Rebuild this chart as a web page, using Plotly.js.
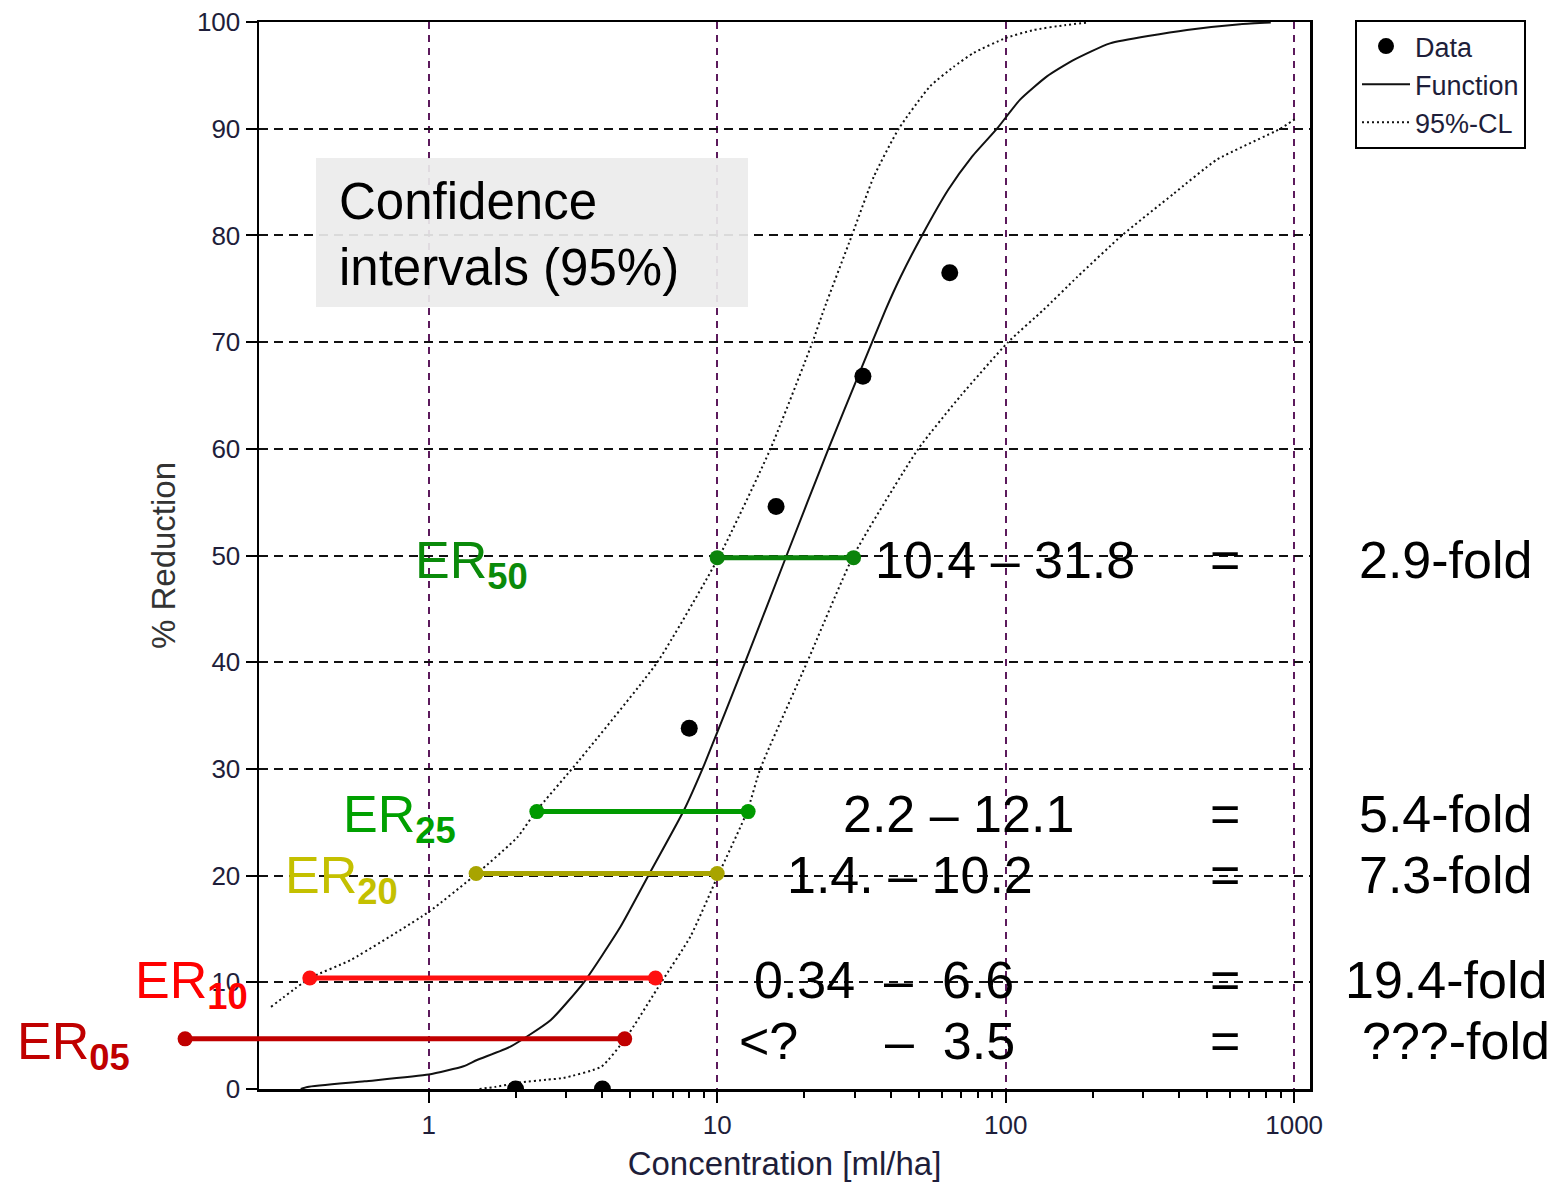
<!DOCTYPE html>
<html><head><meta charset="utf-8">
<script src="https://cdn.plot.ly/plotly-3.0.1.min.js"></script>
<style>html,body{margin:0;padding:0;background:#fff}#chart{width:1564px;height:1183px}</style>
</head><body><div id="chart"></div>
<script>
// ---- data ----
const dataX = [2, 4, 8, 16, 32, 64];
const dataY = [0, 0, 33.8, 54.6, 66.8, 76.5];

const fnX = [0.36, 0.38, 0.6, 1.0, 1.32, 1.47, 1.92, 2.65, 3.45, 4.62, 5.8, 7.66, 9.05, 12.5, 17.4, 24.3, 31, 38.3, 43.2, 51.3, 63.3, 76, 93.3, 112, 139, 171, 230, 425, 650, 830];
const fnY = [0.0, 0.19, 0.72, 1.35, 2.13, 2.72, 3.97, 6.47, 10.0, 15.2, 20.1, 26.1, 30.5, 40, 50, 60, 67, 73, 76.1, 80, 84.3, 87.3, 90, 92.7, 94.9, 96.4, 98.0, 99.25, 99.8, 99.95];

const ciUpperX = [0.284, 0.388, 0.537, 1.0, 1.47, 2.03, 2.35, 3.32, 6.2, 10.2, 15.3, 21.4, 23.4, 29.3, 34.9, 42.6, 54.8, 66, 77.4, 100, 125, 160, 193];
const ciUpperY = [7.7, 10.4, 12.1, 16.6, 20.2, 23.6, 26.0, 30.8, 40, 50, 60, 70, 73, 80, 85.5, 90, 94, 95.8, 97.1, 98.5, 99.25, 99.7, 99.95];

const ciLowerX = [1.5, 1.7, 2.09, 2.58, 2.93, 3.97, 4.8, 6.4, 8.08, 10.1, 12.7, 14.1, 20.5, 29.7, 49.8, 70, 102, 135, 177, 253, 382, 540, 895, 1020];
const ciLowerY = [0.0, 0.2, 0.63, 0.88, 1.03, 2.1, 4.7, 10.0, 14.3, 20.1, 26.0, 30.0, 40, 50, 60, 65, 70, 73, 76.1, 80, 83.9, 87.1, 90, 91];

const erNames = ['50', '25', '20', '10', '05'];
const erY = [49.8, 26.0, 20.2, 10.4, 4.7];
const erLow = [10.0, 2.37, 1.46, 0.387, 0.143];
const erHigh = [29.7, 12.8, 10.0, 6.11, 4.78];

const intervalText = ['10.4 – 31.8', '2.2 – 12.1', '1.4. – 10.2',
  '0.34\u00a0\u00a0–\u00a0\u00a06.6', '&lt;?\u00a0\u00a0\u00a0\u00a0\u00a0\u00a0–\u00a0\u00a03.5'];
const foldText = ['2.9-fold', '5.4-fold', '7.3-fold', '19.4-fold', '???-fold'];

const xTickVals = [1, 10, 100, 1000];
const xTickText = ['1', '10', '100', '1000'];
const xMinorVals = [2, 3, 4, 5, 6, 7, 8, 9, 20, 30, 40, 50, 60, 70, 80, 90, 200, 300, 400, 500, 600, 700, 800, 900];
const xMin = 0.258, xMax = 1135;

// ---- styles / placement (pixels of the 1564x1183 page) ----
const W = 1564, H = 1183;
const M = {l: 15, r: 254, t: 22, b: 94};
const plotLeftPx = 259;                    // left edge of the framed plot
const PW = W - M.l - M.r, PH = H - M.t - M.b;
const px2paperX = p => (p - M.l) / PW;
const px2paperY = p => (H - M.b - p) / PH;
const d0 = px2paperX(plotLeftPx);
const xr = [Math.log10(xMin), Math.log10(xMax)];
// wider, invisible twin axis with the same scale so the ER bars may run past the frame
const x2r = [xr[0] - (xr[1] - xr[0]) * d0 / (1 - d0), xr[1]];

const erLineColor = ['#0b840b', '#009a00', '#a8a400', '#ff1010', '#c00000'];
const erTextColor = ['#0a8a0a', '#00a000', '#c4c000', '#ff0000', '#c00000'];
const erLabelLeftPx = [413, 341, 283, 133, 15];
const intervalLeftPx = [873, 841, 785, 752, 737];
const foldLeftPx = [1357, 1357, 1357, 1343, 1360];
const eqCenterPx = 1225;

const FONT = 'Liberation Sans, Arial, sans-serif';
const tickColor = '#1e1e3a';
const curve = {shape: 'spline', smoothing: 0.5};

const traces = [
  {x: fnX, y: fnY, type: 'scatter', mode: 'lines', name: 'Function', legendrank: 2,
   line: Object.assign({color: '#111', width: 2}, curve)},
  {x: ciUpperX, y: ciUpperY, type: 'scatter', mode: 'lines', name: '95%-CL', legendgroup: 'ci', legendrank: 3,
   line: Object.assign({color: '#111', width: 2, dash: '2px,3px'}, curve)},
  {x: ciLowerX, y: ciLowerY, type: 'scatter', mode: 'lines', name: '95%-CL', legendgroup: 'ci', legendrank: 3, showlegend: false,
   line: Object.assign({color: '#111', width: 2, dash: '2px,3px'}, curve)},
  {x: dataX, y: dataY, type: 'scatter', mode: 'markers', name: 'Data', legendrank: 1,
   marker: {color: '#000', size: 17, symbol: 'circle'}},
];
erNames.forEach((n, i) => {
  traces.push({x: [erLow[i], erHigh[i]], y: [erY[i], erY[i]], xaxis: 'x2', yaxis: 'y2',
    type: 'scatter', mode: 'lines+markers', showlegend: false, hoverinfo: 'skip',
    line: {color: erLineColor[i], width: 5}, marker: {color: erLineColor[i], size: 15}});
});

const annotations = [];
annotations.push({xref: 'paper', yref: 'paper', x: px2paperX(337), y: px2paperY(234), xanchor: 'left', yanchor: 'middle',
  align: 'left', showarrow: false, text: 'Confidence<br>intervals (95%)', font: {family: FONT, size: 51, color: '#000'}});
erNames.forEach((n, i) => {
  annotations.push({xref: 'paper', yref: 'y', x: px2paperX(erLabelLeftPx[i]), y: erY[i], xanchor: 'left', yanchor: 'middle',
    yshift: -6, showarrow: false, text: 'ER<sub><b>' + n + '</b></sub>', font: {family: FONT, size: 52, color: erTextColor[i]}});
  annotations.push({xref: 'paper', yref: 'y', x: px2paperX(intervalLeftPx[i]), y: erY[i], xanchor: 'left', yanchor: 'middle',
    yshift: -2, showarrow: false, text: intervalText[i], font: {family: FONT, size: 52, color: '#000'}});
  annotations.push({xref: 'paper', yref: 'y', x: px2paperX(eqCenterPx), y: erY[i], xanchor: 'center', yanchor: 'middle',
    yshift: -2, showarrow: false, text: '=', font: {family: FONT, size: 52, color: '#000'}});
  annotations.push({xref: 'paper', yref: 'y', x: px2paperX(foldLeftPx[i]), y: erY[i], xanchor: 'left', yanchor: 'middle',
    yshift: -2, showarrow: false, text: foldText[i], font: {family: FONT, size: 52, color: '#000'}});
});

const layout = {
  width: W, height: H,
  margin: M,
  paper_bgcolor: '#fff', plot_bgcolor: 'rgba(0,0,0,0)',
  font: {family: FONT, color: tickColor},
  showlegend: true,
  legend: {x: px2paperX(1355), y: px2paperY(20), xanchor: 'left', yanchor: 'top',
    bordercolor: '#000', borderwidth: 2, bgcolor: '#fff', font: {family: FONT, size: 27, color: tickColor},
    itemwidth: 48, tracegroupgap: 0, traceorder: 'normal'},
  xaxis: {
    domain: [d0, 1], anchor: 'y',
    type: 'log', range: xr,
    tickmode: 'array', tickvals: xTickVals, ticktext: xTickText,
    ticks: 'outside', ticklen: 11, tickwidth: 2, tickcolor: '#000',
    tickfont: {family: FONT, size: 26, color: tickColor},
    showgrid: true, gridcolor: '#5c1a5c', gridwidth: 2, griddash: '7px,6px',
    minor: {tickmode: 'array', tickvals: xMinorVals, ticks: 'outside', ticklen: 6, tickwidth: 2, tickcolor: '#000', showgrid: false},
    showline: true, linecolor: '#000', linewidth: 2.5, mirror: true, zeroline: false,
    title: {text: 'Concentration [ml/ha]', font: {family: FONT, size: 33, color: tickColor}, standoff: 13}
  },
  yaxis: {
    domain: [0, 1], anchor: 'x',
    range: [0, 100], tick0: 0, dtick: 10,
    ticks: 'outside', ticklen: 11, tickwidth: 2, tickcolor: '#000',
    tickfont: {family: FONT, size: 26, color: tickColor},
    showgrid: true, gridcolor: '#111', gridwidth: 2, griddash: '9px,6px',
    showline: true, linecolor: '#000', linewidth: 2.5, mirror: true, zeroline: false,
    title: {text: '% Reduction', font: {family: FONT, size: 33, color: '#333'}, standoff: 12}
  },
  xaxis2: {domain: [0, 1], anchor: 'y2', type: 'log', range: x2r, visible: false, showgrid: false, zeroline: false},
  yaxis2: {domain: [0, 1], anchor: 'x2', range: [0, 100], visible: false, showgrid: false, zeroline: false},
  shapes: [
    {type: 'rect', xref: 'paper', yref: 'paper', x0: px2paperX(316), x1: px2paperX(748), y0: px2paperY(307), y1: px2paperY(158),
     fillcolor: 'rgba(236,236,236,0.92)', line: {width: 0}, layer: 'above'}
  ],
  annotations: annotations
};

Plotly.newPlot('chart', traces, layout, {displayModeBar: false, staticPlot: true});
</script>
</body></html>
